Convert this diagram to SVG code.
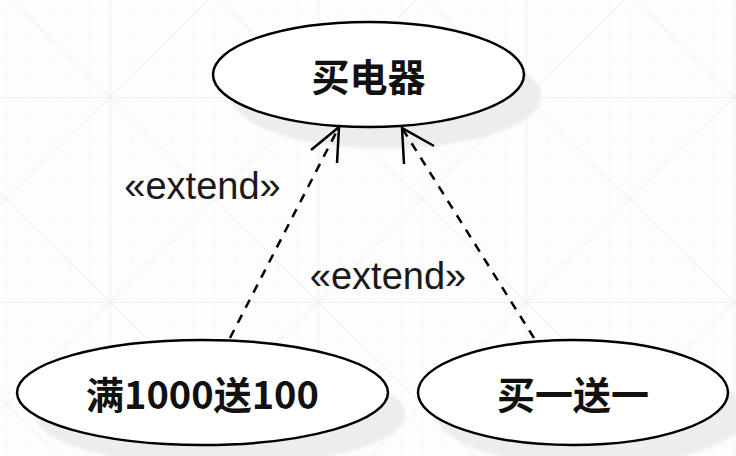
<svg xmlns="http://www.w3.org/2000/svg" width="736" height="456" viewBox="0 0 736 456">
  <defs>
    <pattern id="fine" patternUnits="userSpaceOnUse" x="110" y="97" width="20.8" height="20.5">
      <path d="M0 0V20.5M0 0H20.8" stroke="#f7f7f7" stroke-width="1" fill="none"/>
    </pattern>
    <pattern id="grid" patternUnits="userSpaceOnUse" x="110" y="97" width="208" height="205">
      <path d="M0 0V205M0 0H208" stroke="#e6e6e6" stroke-width="1" fill="none"/>
      <path d="M0 0L208 205M208 0L0 205" stroke="#ececec" stroke-width="1" fill="none"/>
    </pattern>
    <filter id="blur" x="-10%" y="-10%" width="120%" height="120%">
      <feGaussianBlur stdDeviation="1.5"/>
    </filter>
  </defs>
  <style>
    .uc { fill: #ffffff; stroke: #000; stroke-width: 2.5; }
    .sh { fill: #ededed; filter: url(#blur); }
    .lbl { font-family: "Noto Sans CJK SC", "Noto Sans", sans-serif; font-weight: bold; font-size: 38px; fill: #111; text-anchor: middle; dominant-baseline: central; }
    .st { font-family: "Liberation Sans", Arial, sans-serif; font-size: 38px; fill: #1a1a1a; text-anchor: middle; }
    .dash { fill: none; stroke: #000; stroke-width: 2.5; stroke-dasharray: 9 8; }
    .head { fill: none; stroke: #000; stroke-width: 2.5; stroke-linejoin: miter; }
  </style>
  <rect width="736" height="456" fill="#fdfdfd"/>
  <rect width="736" height="456" fill="url(#fine)"/>
  <rect width="736" height="456" fill="url(#grid)"/>

  <g id="shadows">
    <ellipse class="sh" cx="386" cy="96" rx="155.5" ry="52.5"/>
    <ellipse class="sh" cx="220" cy="414" rx="185.5" ry="52.5"/>
    <ellipse class="sh" cx="591" cy="414" rx="155" ry="52.5"/>
  </g>

  <g id="node-buy-appliance">
    <ellipse class="uc" cx="368.5" cy="74.5" rx="155.5" ry="52.5"/>
    <text class="lbl" x="368.5" y="74.5">买电器</text>
  </g>

  <g id="node-full-1000">
    <ellipse class="uc" cx="202.5" cy="392.5" rx="185.5" ry="52.5"/>
    <text class="lbl" x="202.5" y="392.5">满1000送100</text>
  </g>

  <g id="node-buy-one-get-one">
    <ellipse class="uc" cx="573" cy="392.5" rx="155" ry="52.5"/>
    <text class="lbl" x="573" y="392.5">买一送一</text>
  </g>

  <g id="connectors">
    <line class="dash" x1="230" y1="338" x2="339" y2="127"/>
    <path class="head" d="M311 150L339 127L337 163"/>
    <line class="dash" x1="534" y1="338" x2="402" y2="128"/>
    <path class="head" d="M404 164L402 128L434 146"/>
    <text class="st" x="202.5" y="199">«extend»</text>
    <text class="st" x="388" y="289">«extend»</text>
  </g>
</svg>
